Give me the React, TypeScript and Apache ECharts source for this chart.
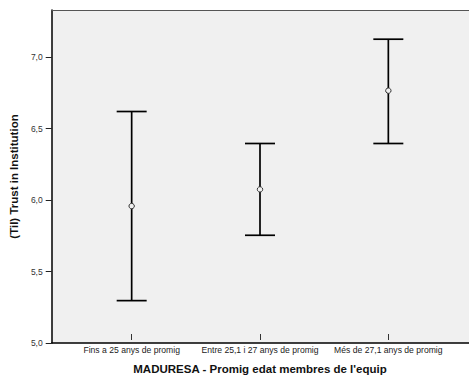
import React, { useEffect, useRef } from "react";
import * as echarts from "echarts";

// Age-maturity groups of the team
const categories = [
  "Fins a 25 anys de promig",
  "Entre 25,1 i 27 anys de promig",
  "Més de 27,1 anys de promig",
];
// Mean trust in institution and its 95% confidence interval
const means = [5.92, 6.04, 6.75];
const lows = [5.24, 5.71, 6.37];
const highs = [6.6, 6.37, 7.12];
const yTicks = [5.0, 5.5, 6.0, 6.5, 7.0];

const FONT = "Arial, 'Liberation Sans', sans-serif";
const Y_MIN = 5.0;
const Y_MAX = 7.33;

export default function App() {
  const ref = useRef<HTMLDivElement>(null);

  useEffect(() => {
    if (!ref.current) return;
    const chart = echarts.init(ref.current, null, { renderer: "svg" });

    const errData = categories.map((_, i) => [i, lows[i], highs[i], means[i]]);

    chart.setOption({
      animation: false,
      grid: [
        {
          left: 46,
          right: 0,
          top: 10,
          bottom: 37,
          show: true,
          backgroundColor: "#f0f0f0",
          borderWidth: 0,
        },
        { left: 67.5, width: 385, top: 10, bottom: 37 },
      ],
      xAxis: [
        {
          gridIndex: 0,
          type: "value",
          min: 0,
          max: 1,
          position: "bottom",
          axisLine: { show: true, lineStyle: { color: "#000", width: 1.5 } },
          axisTick: { show: false },
          axisLabel: { show: false },
          splitLine: { show: false },
        },
        {
          gridIndex: 0,
          type: "value",
          min: 0,
          max: 1,
          position: "top",
          axisLine: { show: true, lineStyle: { color: "#555", width: 1 } },
          axisTick: { show: false },
          axisLabel: { show: false },
          splitLine: { show: false },
        },
        {
          gridIndex: 1,
          type: "category",
          data: categories,
          boundaryGap: true,
          axisLine: { show: false },
          axisTick: {
            show: true,
            alignWithLabel: true,
            length: 6,
            lineStyle: { color: "#333", width: 1 },
          },
          axisLabel: {
            show: true,
            interval: 0,
            fontFamily: FONT,
            fontSize: 8.6,
            color: "#222",
            margin: 11,
          },
          name: "MADURESA - Promig edat membres de l'equip",
          nameLocation: "middle",
          nameGap: 29,
          nameTextStyle: {
            fontFamily: FONT,
            fontSize: 11.5,
            fontWeight: "bold",
            color: "#111",
          },
        },
      ],
      yAxis: [
        {
          gridIndex: 0,
          type: "value",
          min: Y_MIN,
          max: Y_MAX,
          axisLine: { show: true, lineStyle: { color: "#000", width: 1.5 } },
          axisTick: {
            show: true,
            length: 6,
            customValues: yTicks,
            lineStyle: { color: "#222", width: 1 },
          },
          axisLabel: {
            show: true,
            customValues: yTicks,
            formatter: (v: number) => v.toFixed(1).replace(".", ","),
            fontFamily: FONT,
            fontSize: 8.5,
            color: "#333",
            margin: 9,
          },
          splitLine: { show: false },
          name: "(TiI) Trust in Institution",
          nameLocation: "middle",
          nameGap: 30,
          nameRotate: 90,
          nameTextStyle: {
            fontFamily: FONT,
            fontSize: 11.5,
            fontWeight: "bold",
            color: "#111",
          },
        },
        {
          gridIndex: 1,
          type: "value",
          min: Y_MIN,
          max: Y_MAX,
          show: false,
        },
      ],
      series: [
        {
          type: "custom",
          xAxisIndex: 2,
          yAxisIndex: 1,
          data: errData,
          encode: { x: 0, y: [1, 2, 3] },
          renderItem: (params: any, api: any) => {
            const idx = api.value(0);
            const lo = api.coord([idx, api.value(1)]);
            const hi = api.coord([idx, api.value(2)]);
            const mid = api.coord([idx, api.value(3)]);
            const half = 15;
            const stroke = { stroke: "#000", lineWidth: 1.7 };
            return {
              type: "group",
              children: [
                {
                  type: "line",
                  shape: { x1: hi[0], y1: hi[1], x2: lo[0], y2: lo[1] },
                  style: stroke,
                },
                {
                  type: "line",
                  shape: { x1: hi[0] - half, y1: hi[1], x2: hi[0] + half, y2: hi[1] },
                  style: stroke,
                },
                {
                  type: "line",
                  shape: { x1: lo[0] - half, y1: lo[1], x2: lo[0] + half, y2: lo[1] },
                  style: stroke,
                },
                {
                  type: "circle",
                  shape: { cx: mid[0], cy: mid[1], r: 2.7 },
                  style: { fill: "#f0f0f0", stroke: "#333", lineWidth: 1 },
                },
              ],
            };
          },
        },
      ],
    });

    return () => chart.dispose();
  }, []);

  return (
    <div
      ref={ref}
      style={{
        position: "fixed",
        left: 0,
        top: 0,
        width: 469,
        height: 380,
        background: "#fff",
      }}
    />
  );
}
